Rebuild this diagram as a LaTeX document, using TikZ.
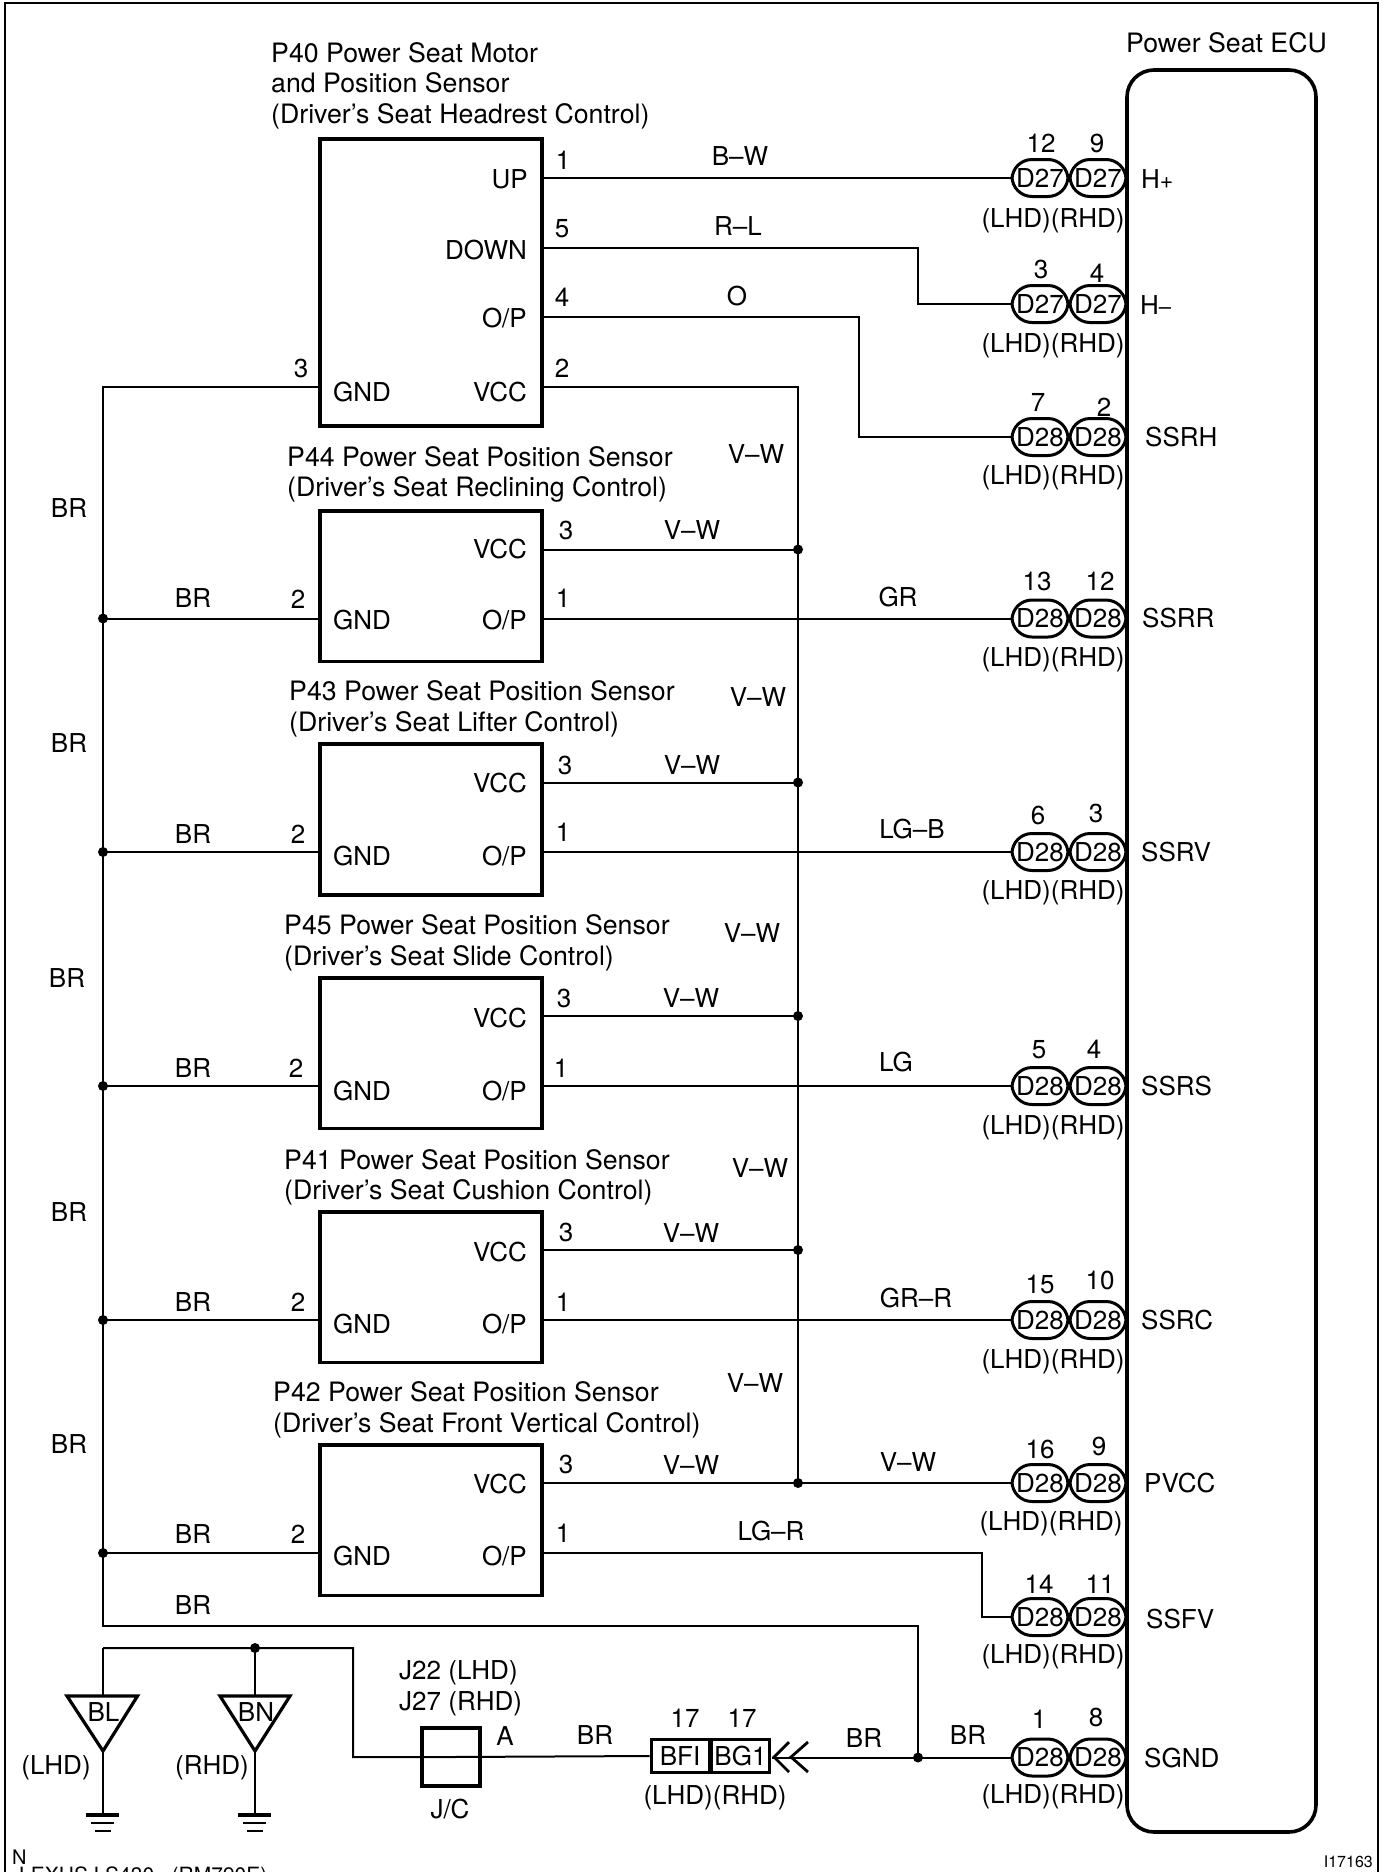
\documentclass[tikz,border=0pt]{standalone}
\usepackage{fontspec}
\setmainfont{TeX Gyre Heros}

\tikzset{
  every node/.style={inner sep=0pt,font=\fontsize{26}{30.5}\selectfont},
  lbl/.style={text height=18.6pt,text depth=0pt},
  wire/.style={line width=2pt},
  unit/.style={draw,line width=3.6pt,minimum width=222.4pt,anchor=north west},
  plug/.style={draw,line width=3pt,rounded corners=20pt,minimum width=56pt,minimum height=37pt,lbl,font=\fontsize{26}{30}\selectfont},
  pin/.style={draw,line width=3pt,lbl},
  dot/.style={circle,fill,minimum size=10pt},
  title/.style={align=left,anchor=north west,font=\fontsize{26.7}{30.5}\selectfont},
  chev/.style={line width=2.8pt},
}

\begin{document}
\begin{tikzpicture}[x=1pt,y=-1pt]
  \useasboundingbox (0,0) rectangle (1383,1872);
  \clip (0,0) rectangle (1383,1872);
  \coordinate (frameA) at (5,1890);
  \coordinate (frameB) at (5,3);
  \coordinate (frameC) at (1378,3);
  \coordinate (frameD) at (1378,1890);
  \draw[line width=2.6pt] (frameA) -- (frameB) -- (frameC) -- (frameD);

  \node[lbl,anchor=west,font=\fontsize{26.7}{30}\selectfont] (ecutitle) at (1126,43) {Power Seat ECU};
  \draw[line width=3.6pt,rounded corners=27pt] (1127,70) rectangle (1316,1832);
  \coordinate (ecu) at (1127,70);

  % motor
  \node[unit,minimum height=287.4pt] (p40) at (318,137) {};
  \node[title] (p40title) at (271,42) {P40 Power Seat Motor\\and Position Sensor\\(Driver's Seat Headrest Control)};
  \node[lbl,anchor=east] (p40up) at (528,179) {UP};
  \node[lbl,anchor=east] (p40down) at (527,250) {DOWN};
  \node[lbl,anchor=east] (p40op) at (527,318) {O/P};
  \node[lbl,anchor=east] (p40vcc) at (527,392) {VCC};
  \node[lbl,anchor=west] (p40gnd) at (333,392) {GND};
  \node[lbl] (p40n1) at (563,160) {1};
  \node[lbl] (p40n5) at (562,228) {5};
  \node[lbl] (p40n4) at (562,297) {4};
  \node[lbl] (p40n2) at (562,368) {2};
  \node[lbl] (p40n3) at (301,368) {3};
  \coordinate (p40a) at (543,178);
  \coordinate (p40b) at (543,248);
  \coordinate (p40c) at (543,317);
  \coordinate (p40d) at (543,387);
  \coordinate (p40e) at (319,387);
  \node[lbl] (wbw) at (740,156) {B–W};
  \node[lbl] (wrl) at (738,226) {R–L};
  \node[lbl] (wo) at (737,296) {O};

  % sensors
  \begin{scope}[shift={(0,511)}]
    \node[unit,minimum height=150.5pt] (p44) at (318,-2) {};
    \node[title] (p44title) at (287,-65) {P44 Power Seat Position Sensor\\(Driver's Seat Reclining Control)};
    \node[lbl,anchor=east] (p44vcc) at (527,38.5) {VCC};
    \node[lbl,anchor=east] (p44op) at (527,109) {O/P};
    \node[lbl,anchor=west] (p44gnd) at (333,109) {GND};
    \node[lbl] (p44n3) at (566,19) {3};
    \node[lbl] (p44n1) at (563,87) {1};
    \node[lbl] (p44n2) at (298,88) {2};
    \node[lbl] (p44vw) at (692,19) {V–W};
    \node[lbl] (p44br) at (193,87) {BR};
    \coordinate (p44a) at (543,38.5);
    \coordinate (p44b) at (543,107.5);
    \coordinate (p44c) at (319,107.5);
  \end{scope}
  \begin{scope}[shift={(0,744)}]
    \node[unit,minimum height=151pt] (p43) at (318,-2) {};
    \node[title] (p43title) at (289,-63.5) {P43 Power Seat Position Sensor\\(Driver's Seat Lifter Control)};
    \node[lbl,anchor=east] (p43vcc) at (527,39) {VCC};
    \node[lbl,anchor=east] (p43op) at (527,112) {O/P};
    \node[lbl,anchor=west] (p43gnd) at (333,112) {GND};
    \node[lbl] (p43n3) at (565,21) {3};
    \node[lbl] (p43n1) at (563,88) {1};
    \node[lbl] (p43n2) at (298,90) {2};
    \node[lbl] (p43vw) at (692,21) {V–W};
    \node[lbl] (p43br) at (193,90) {BR};
    \coordinate (p43a) at (543,38.5);
    \coordinate (p43b) at (543,108);
    \coordinate (p43c) at (319,108);
  \end{scope}
  \begin{scope}[shift={(0,978)}]
    \node[unit,minimum height=150.5pt] (p45) at (318,-2) {};
    \node[title] (p45title) at (284,-63.5) {P45 Power Seat Position Sensor\\(Driver's Seat Slide Control)};
    \node[lbl,anchor=east] (p45vcc) at (527,40) {VCC};
    \node[lbl,anchor=east] (p45op) at (527,113) {O/P};
    \node[lbl,anchor=west] (p45gnd) at (333,113) {GND};
    \node[lbl] (p45n3) at (564,20) {3};
    \node[lbl] (p45n1) at (561,90) {1};
    \node[lbl] (p45n2) at (296,90) {2};
    \node[lbl] (p45vw) at (691,20) {V–W};
    \node[lbl] (p45br) at (193,90) {BR};
    \coordinate (p45a) at (543,38);
    \coordinate (p45b) at (543,108);
    \coordinate (p45c) at (319,108);
  \end{scope}
  \begin{scope}[shift={(0,1212)}]
    \node[unit,minimum height=150.5pt] (p41) at (318,-2) {};
    \node[title] (p41title) at (284,-63) {P41 Power Seat Position Sensor\\(Driver's Seat Cushion Control)};
    \node[lbl,anchor=east] (p41vcc) at (527,40) {VCC};
    \node[lbl,anchor=east] (p41op) at (527,112) {O/P};
    \node[lbl,anchor=west] (p41gnd) at (333,112) {GND};
    \node[lbl] (p41n3) at (566,20) {3};
    \node[lbl] (p41n1) at (563,90) {1};
    \node[lbl] (p41n2) at (298,90) {2};
    \node[lbl] (p41vw) at (691,21) {V–W};
    \node[lbl] (p41br) at (193,90) {BR};
    \coordinate (p41a) at (543,38);
    \coordinate (p41b) at (543,108);
    \coordinate (p41c) at (319,108);
  \end{scope}
  \begin{scope}[shift={(0,1445)}]
    \node[unit,minimum height=150.5pt] (p42) at (318,-2) {};
    \node[title] (p42title) at (273,-63.5) {P42 Power Seat Position Sensor\\(Driver's Seat Front Vertical Control)};
    \node[lbl,anchor=east] (p42vcc) at (527,39) {VCC};
    \node[lbl,anchor=east] (p42op) at (527,111) {O/P};
    \node[lbl,anchor=west] (p42gnd) at (333,111) {GND};
    \node[lbl] (p42n3) at (566,19) {3};
    \node[lbl] (p42n1) at (563,88) {1};
    \node[lbl] (p42n2) at (298,89) {2};
    \node[lbl] (p42vw) at (691,20) {V–W};
    \node[lbl] (p42br) at (193,89) {BR};
    \coordinate (p42a) at (543,38);
    \coordinate (p42b) at (543,108);
    \coordinate (p42c) at (319,108);
  \end{scope}

  % plugs on the ecu
  \begin{scope}[shift={(0,178)}]
    \node[plug] (hpl) at (1040,0) {D27};
    \node[plug] (hpr) at (1098,0) {D27};
    \node[lbl] (hpnl) at (1041,-35) {12};
    \node[lbl] (hpnr) at (1097,-35) {9};
    \node[lbl] (hpside) at (1053,40) {(LHD)(RHD)};
    \node[lbl,anchor=west] (hp) at (1141,1) {H{\fontsize{23}{23}\selectfont +}};
  \end{scope}
  \begin{scope}[shift={(0,304)}]
    \node[plug] (hml) at (1040,0) {D27};
    \node[plug] (hmr) at (1098,0) {D27};
    \node[lbl] (hmnl) at (1041,-35) {3};
    \node[lbl] (hmnr) at (1097,-31) {4};
    \node[lbl] (hmside) at (1053,39) {(LHD)(RHD)};
    \node[lbl,anchor=west] (hm) at (1140,1) {H{\fontsize{22}{22}\selectfont –}};
  \end{scope}
  \begin{scope}[shift={(0,437)}]
    \node[plug] (shl) at (1040,0) {D28};
    \node[plug] (shr) at (1098,0) {D28};
    \node[lbl] (shnl) at (1038,-35) {7};
    \node[lbl] (shnr) at (1104,-30) {2};
    \node[lbl] (shside) at (1053,38) {(LHD)(RHD)};
    \node[lbl,anchor=west] (sh) at (1145,0) {SSRH};
  \end{scope}
  \begin{scope}[shift={(0,618.5)}]
    \node[plug] (srl) at (1040,0) {D28};
    \node[plug] (srr) at (1098,0) {D28};
    \node[lbl] (srnl) at (1037,-37) {13};
    \node[lbl] (srnr) at (1100,-37) {12};
    \node[lbl] (srside) at (1053,39) {(LHD)(RHD)};
    \node[lbl,anchor=west] (sr) at (1142,0) {SSRR};
  \end{scope}
  \begin{scope}[shift={(0,852)}]
    \node[plug] (svl) at (1040,0) {D28};
    \node[plug] (svr) at (1098,0) {D28};
    \node[lbl] (svnl) at (1038,-37) {6};
    \node[lbl] (svnr) at (1096,-39) {3};
    \node[lbl] (svside) at (1053,38) {(LHD)(RHD)};
    \node[lbl,anchor=west] (sv) at (1141,0) {SSRV};
  \end{scope}
  \begin{scope}[shift={(0,1086)}]
    \node[plug] (ssl) at (1040,0) {D28};
    \node[plug] (ssr) at (1098,0) {D28};
    \node[lbl] (ssnl) at (1039,-37) {5};
    \node[lbl] (ssnr) at (1094,-37) {4};
    \node[lbl] (ssside) at (1053,39) {(LHD)(RHD)};
    \node[lbl,anchor=west] (ss) at (1141,0) {SSRS};
  \end{scope}
  \begin{scope}[shift={(0,1320)}]
    \node[plug] (scl) at (1040,0) {D28};
    \node[plug] (scr) at (1098,0) {D28};
    \node[lbl] (scnl) at (1040,-36) {15};
    \node[lbl] (scnr) at (1100,-40) {10};
    \node[lbl] (scside) at (1053,39) {(LHD)(RHD)};
    \node[lbl,anchor=west] (sc) at (1141,0) {SSRC};
  \end{scope}
  \begin{scope}[shift={(0,1483)}]
    \node[plug] (pvl) at (1040,0) {D28};
    \node[plug] (pvr) at (1098,0) {D28};
    \node[lbl] (pvnl) at (1040,-34) {16};
    \node[lbl] (pvnr) at (1099,-37) {9};
    \node[lbl] (pvside) at (1051,38) {(LHD)(RHD)};
    \node[lbl,anchor=west] (pv) at (1144,0) {PVCC};
  \end{scope}
  \begin{scope}[shift={(0,1617)}]
    \node[plug] (sfl) at (1040,0) {D28};
    \node[plug] (sfr) at (1098,0) {D28};
    \node[lbl] (sfnl) at (1039,-33) {14};
    \node[lbl] (sfnr) at (1100,-33) {11};
    \node[lbl] (sfside) at (1053,37) {(LHD)(RHD)};
    \node[lbl,anchor=west] (sf) at (1146,2) {SSFV};
  \end{scope}
  \begin{scope}[shift={(0,1757.5)}]
    \node[plug] (sgl) at (1040,0) {D28};
    \node[plug] (sgr) at (1098,0) {D28};
    \node[lbl] (sgnl) at (1039,-38) {1};
    \node[lbl] (sgnr) at (1096,-40) {8};
    \node[lbl] (sgside) at (1053,37) {(LHD)(RHD)};
    \node[lbl,anchor=west] (sg) at (1144,1) {SGND};
  \end{scope}

  % wires to the ecu
  \coordinate (jogrl) at (918,248);
  \coordinate (jogo) at (859,317);
  \coordinate (joglg) at (982,1553);
  \draw[wire] (p40a) -- (hpl.west);
  \draw[wire] (p40b) -- (jogrl) -- (jogrl |- hml.west) -- (hml.west);
  \draw[wire] (p40c) -- (jogo) -- (jogo |- shl.west) -- (shl.west);
  \draw[wire] (p44b) -- (srl.west);
  \draw[wire] (p43b) -- (svl.west);
  \draw[wire] (p45b) -- (ssl.west);
  \draw[wire] (p41b) -- (scl.west);
  \draw[wire] (p42a) -- (pvl.west);
  \draw[wire] (p42b) -- (joglg) -- (joglg |- sfl.west) -- (sfl.west);
  \node[lbl] (wgr) at (898,597) {GR};
  \node[lbl] (wlgb) at (912,829) {LG–B};
  \node[lbl] (wlg) at (896,1062) {LG};
  \node[lbl] (wgrr) at (916,1298) {GR–R};
  \node[lbl] (wvw) at (908,1462) {V–W};
  \node[lbl] (wlgr) at (771,1531) {LG–R};

  % vcc rail
  \coordinate (vcctop) at (798,387);
  \node[dot] (vdot44) at (798,549.5) {};
  \node[dot] (vdot43) at (798,782.5) {};
  \node[dot] (vdot45) at (798,1016) {};
  \node[dot] (vdot41) at (798,1250) {};
  \node[dot] (vdot42) at (798,1483) {};
  \draw[wire] (p40d) -- (vcctop) -- (vdot42.center);
  \draw[wire] (p44a) -- (vdot44.center);
  \draw[wire] (p43a) -- (vdot43.center);
  \draw[wire] (p45a) -- (vdot45.center);
  \draw[wire] (p41a) -- (vdot41.center);
  \node[lbl] (vw1) at (756,454) {V–W};
  \node[lbl] (vw2) at (758,697) {V–W};
  \node[lbl] (vw3) at (752,933) {V–W};
  \node[lbl] (vw4) at (760,1168) {V–W};
  \node[lbl] (vw5) at (755,1383) {V–W};

  % gnd rail
  \coordinate (gndtop) at (103,387);
  \coordinate (gndlow) at (103,1626);
  \coordinate (gndjog) at (918,1626);
  \node[dot] (gdot44) at (103,618.5) {};
  \node[dot] (gdot43) at (103,852) {};
  \node[dot] (gdot45) at (103,1086) {};
  \node[dot] (gdot41) at (103,1320) {};
  \node[dot] (gdot42) at (103,1553) {};
  \node[dot] (gdotsg) at (918,1757.5) {};
  \draw[wire] (p40e) -- (gndtop) -- (gndlow) -- (gndjog) -- (gdotsg.center);
  \draw[wire] (p44c) -- (gdot44.center);
  \draw[wire] (p43c) -- (gdot43.center);
  \draw[wire] (p45c) -- (gdot45.center);
  \draw[wire] (p41c) -- (gdot41.center);
  \draw[wire] (p42c) -- (gdot42.center);
  \node[lbl] (br1) at (69,508) {BR};
  \node[lbl] (br2) at (69,743) {BR};
  \node[lbl] (br3) at (67,978) {BR};
  \node[lbl] (br4) at (69,1212) {BR};
  \node[lbl] (br5) at (69,1444) {BR};
  \node[lbl] (br6) at (193,1605) {BR};

  % junction and grounds
  \node[draw,line width=3.4pt,minimum width=58pt,minimum height=58pt] (jc) at (451,1757) {};
  \node[pin,minimum width=58pt,minimum height=33pt] (bfi) at (680,1756) {BFI};
  \node[pin,minimum width=58pt,minimum height=33pt] (bg) at (740.5,1756) {BG1};
  \node[lbl] (bfin) at (685,1718) {17};
  \node[lbl] (bgn) at (742,1718) {17};
  \node[lbl] (bside) at (715,1795) {(LHD)(RHD)};
  \node[lbl,anchor=west] (jlhd) at (399,1670) {J22 (LHD)};
  \node[lbl,anchor=west] (jrhd) at (399,1701) {J27 (RHD)};
  \node[lbl] (ja) at (505,1736) {A};
  \node[lbl] (jname) at (450,1809) {J/C};
  \node[lbl] (jbr) at (595,1735) {BR};
  \node[lbl] (cbr) at (864,1738) {BR};
  \node[lbl] (dbr) at (968,1735) {BR};
  \node[dot] (tdot) at (255,1648) {};
  \coordinate (tl) at (103,1648);
  \coordinate (tr) at (353,1648);
  \coordinate (trd) at (353,1757);
  \coordinate (cm) at (772,1757.5);
  \draw[wire] (tl) -- (tr) -- (trd) -- (jc.center) -- (bfi.west);
  \draw[wire] (cm) -- (gdotsg.center) -- (sgl.west);
  \draw[chev] (789,1742) -- (774,1757) -- (789,1772);
  \draw[chev] (808,1742) -- (791,1757) -- (808,1772);

  \coordinate (tia) at (103,1696);
  \coordinate (tib) at (255,1696);
  \draw[line width=3.2pt,line join=miter] (67,1696) -- (137.5,1696) -- (103,1751) -- cycle;
  \draw[line width=3.2pt,line join=miter] (220,1696) -- (290,1696) -- (255,1751) -- cycle;
  \coordinate (gnda) at (103,1815);
  \coordinate (gndb) at (255,1815);
  \coordinate (tipa) at (103,1751);
  \coordinate (tipb) at (255,1751);
  \draw[wire] (tl) -- (tia);
  \draw[wire] (tdot.center) -- (tib);
  \draw[wire] (tipa) -- (gnda);
  \draw[wire] (tipb) -- (gndb);
  \draw[line width=3.4pt] (86,1815) -- (119,1815);
  \draw[line width=2pt] (91,1823) -- (114,1823);
  \draw[line width=2pt] (95,1831) -- (111,1831);
  \draw[line width=3.4pt] (238,1815) -- (271,1815);
  \draw[line width=2pt] (243,1823) -- (266,1823);
  \draw[line width=2pt] (247,1831) -- (263,1831);
  \node[lbl] (bl) at (103.5,1712) {BL};
  \node[lbl] (bn) at (256,1712) {BN};
  \node[lbl] (gl) at (56,1765) {(LHD)};
  \node[lbl] (gr) at (212,1765) {(RHD)};

  \node[anchor=east,font=\fontsize{16}{16}\selectfont] (figno) at (1373,1862) {I17163};
  \node[anchor=base west,font=\fontsize{20}{20}\selectfont] (nmark) at (12,1864) {N};
  \node[anchor=base west,font=\fontsize{21}{21}\selectfont] (nfoot) at (19,1882) {LEXUS LS430\ \ \ (RM790E)};
\end{tikzpicture}
\end{document}
